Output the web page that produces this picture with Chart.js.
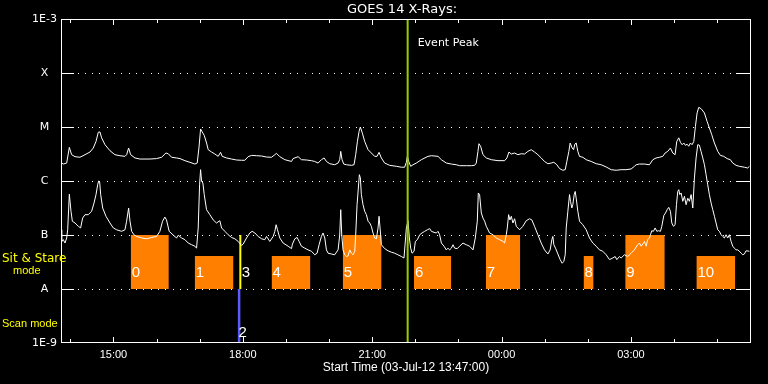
<!DOCTYPE html>
<html>
<head>
<meta charset="utf-8">
<script src="https://cdn.jsdelivr.net/npm/chart.js@4.4.1/dist/chart.umd.min.js"></script>
<style>
    html, body { margin: 0; padding: 0; background: #000; }
    canvas { display: block; }
</style>
</head>
<body>
<canvas id="goesChart" width="768" height="384"></canvas>
<script>
// time axis is in minutes after the start time 03-Jul-12 13:47:00
const startLabel = "Start Time (03-Jul-12 13:47:00)";
const timeSpan = 960;

// GOES 14 long channel (1-8 A), W/m^2
const longTime = [1, 3.2, 7.9, 11.6, 14.8, 19.5, 26.4, 33.4, 40.3, 44.9, 48.7, 51.9, 54.2, 56.5, 61.2, 68.1, 75, 82, 89, 91.3,
    94.1, 96.9, 102.9, 109.8, 123.7, 133, 140, 146, 149.2, 153.9, 160.8, 165.5, 172.4, 179.3, 186.3, 189.5, 191.9, 194.2, 196.5, 199.3,
    202.5, 204.8, 209.5, 214.1, 218.7, 222, 224.3, 230.3, 237.3, 244.2, 251.2, 255.8, 260.4, 265.1, 272, 279, 285.9, 292.9, 297.5, 299.8,
    304.4, 311.4, 320.7, 322.9, 329.9, 334.5, 341.5, 348.4, 353, 357.7, 362.3, 366, 369.3, 373.9, 380.8, 385.5, 387.8, 389.2, 391, 393.4,
    397.1, 404, 407.7, 410, 412.4, 414.7, 416.5, 419.3, 422.5, 427.2, 431.8, 436.4, 439.7, 442.5, 445.7, 450.3, 457.3, 466.6, 473.5, 478.1,
    480.5, 481.9, 483.8, 486.5, 489.8, 494.4, 501.4, 510.6, 515.3, 524.5, 529.2, 536.1, 543.1, 550, 554.6, 563.9, 570.9, 575.5, 577.8, 580.1,
    581.5, 583.8, 587.1, 591.7, 598.7, 607.9, 617.2, 620.4, 623.2, 626.5, 631.1, 635.7, 640.4, 645, 649.6, 654.2, 658.8, 663.5, 668.1, 672.7,
    677.4, 682, 685.7, 689.9, 693.6, 698.2, 701.5, 703.8, 706.6, 708.4, 711.2, 713.1, 714.9, 716.8, 719.1, 721.4, 726, 730.7, 737.6, 744.6,
    751.5, 758.5, 765.4, 772.4, 779.3, 786.3, 793.2, 797.8, 800.2, 804.8, 811.8, 818.7, 823.4, 828, 832.6, 837.3, 840.5, 844.2, 847.9, 851.2,
    854.4, 856.7, 859.5, 861.8, 864.2, 866.5, 868.8, 871.1, 873.4, 875.7, 878, 880.4, 882.7, 885, 887.3, 890.6, 895.2, 898.9, 902.1, 905.4,
    909.1, 913.7, 917.4, 922.1, 926.7, 931.3, 934.6, 939.2, 943.8, 950.8, 955.4, 957.8];
const longFlux = [2.15e-6, 2.06e-6, 2.15e-6, 4.2e-6, 3.07e-6, 2.82e-6, 2.75e-6, 3.07e-6, 3.44e-6, 4.08e-6, 5.4e-6, 8.0e-6, 8.1e-6, 6.3e-6, 4.7e-6, 3.64e-6, 3.07e-6, 2.94e-6, 2.86e-6, 3.07e-6,
    4.08e-6, 3.07e-6, 2.67e-6, 2.55e-6, 2.55e-6, 2.6e-6, 2.75e-6, 3.3e-6, 3.2e-6, 2.75e-6, 2.67e-6, 2.6e-6, 2.38e-6, 2.22e-6, 2.06e-6, 2.15e-6, 4.08e-6, 9.2e-6, 8.1e-6, 7.0e-6,
    5.05e-6, 3.8e-6, 3.44e-6, 3.16e-6, 2.86e-6, 3.4e-6, 2.86e-6, 2.67e-6, 2.55e-6, 2.45e-6, 2.42e-6, 2.42e-6, 2.82e-6, 2.98e-6, 2.94e-6, 2.9e-6, 2.78e-6, 2.75e-6, 3.07e-6, 3.25e-6,
    2.82e-6, 2.48e-6, 2.3e-6, 2.6e-6, 2.82e-6, 2.48e-6, 2.45e-6, 2.38e-6, 2.3e-6, 2.15e-6, 2.48e-6, 2.67e-6, 2.3e-6, 2.09e-6, 2.0e-6, 2.15e-6, 2.48e-6, 3.54e-6, 2.48e-6, 2.06e-6,
    2.0e-6, 1.95e-6, 2.0e-6, 3.07e-6, 5.4e-6, 8.3e-6, 1.0e-5, 7.7e-6, 5.4e-6, 3.8e-6, 3.3e-6, 2.86e-6, 2.86e-6, 3.4e-6, 2.67e-6, 2.15e-6, 1.95e-6, 1.87e-6, 1.8e-6, 1.8e-6,
    2.22e-6, 2.86e-6, 2.3e-6, 1.87e-6, 2.0e-6, 2.15e-6, 2.48e-6, 2.86e-6, 2.94e-6, 2.86e-6, 2.48e-6, 2.15e-6, 2.06e-6, 2.0e-6, 1.92e-6, 1.92e-6, 1.92e-6, 1.95e-6, 2.15e-6, 3.54e-6,
    4.9e-6, 4.4e-6, 3.07e-6, 2.67e-6, 2.48e-6, 2.38e-6, 2.38e-6, 2.67e-6, 3.44e-6, 3.16e-6, 3.3e-6, 3.07e-6, 3.2e-6, 3.16e-6, 3.54e-6, 3.8e-6, 3.44e-6, 3.07e-6, 2.67e-6, 2.3e-6,
    2.09e-6, 2.15e-6, 2.22e-6, 2.0e-6, 1.7e-6, 1.58e-6, 1.62e-6, 2.3e-6, 3.54e-6, 5.05e-6, 4.08e-6, 3.8e-6, 4.8e-6, 5.05e-6, 3.54e-6, 2.86e-6, 2.75e-6, 2.48e-6, 2.3e-6, 2.09e-6,
    2.0e-6, 1.82e-6, 1.62e-6, 1.58e-6, 1.62e-6, 1.62e-6, 1.67e-6, 1.87e-6, 2.0e-6, 2.06e-6, 2.06e-6, 2.0e-6, 2.48e-6, 2.67e-6, 2.75e-6, 2.86e-6, 3.3e-6, 3.54e-6, 4.08e-6, 3.3e-6,
    3.07e-6, 5.4e-6, 6.3e-6, 5.2e-6, 4.7e-6, 5.05e-6, 4.58e-6, 4.8e-6, 4.4e-6, 5.05e-6, 4.7e-6, 5.4e-6, 1.03e-5, 1.82e-5, 2.31e-5, 2.18e-5, 1.82e-5, 1.27e-5, 9.6e-6, 7.2e-6,
    5.05e-6, 3.54e-6, 2.98e-6, 2.86e-6, 2.6e-6, 2.48e-6, 2.15e-6, 1.95e-6, 1.87e-6, 1.8e-6, 1.74e-6, 1.87e-6];

// GOES 14 short channel (0.5-4 A), W/m^2
const shortTime = [0, 1, 3.2, 5.6, 7.9, 9.3, 11.6, 13.9, 15.8, 19.5, 24.1, 27.3, 30.1, 33.4, 38, 42.6, 45.9, 48.7, 51, 52.4,
    53.8, 55.2, 58, 62.6, 68.1, 72.8, 77.4, 84.4, 89, 91.3, 94.1, 96, 98.3, 101.5, 105.2, 112.2, 119.1, 126, 133, 137.6,
    141.3, 144.5, 146.8, 150.5, 156, 160.8, 163.1, 167.8, 172.4, 177, 181.7, 186.3, 188.6, 190.9, 192.8, 194.2, 195.6, 197.4, 199.3, 202.5,
    207.1, 211.8, 216.4, 221, 223.4, 228, 232.6, 237.3, 241.9, 246.5, 251.2, 253.5, 258.1, 262.7, 266, 269.7, 274.3, 279, 283.6, 285.9,
    290.5, 295.2, 297.5, 299.3, 301.2, 304.4, 309.1, 316, 320.7, 322, 325.3, 328.5, 331.3, 334.5, 339.2, 343.8, 348.4, 353, 356.3, 359.1,
    362.3, 364.6, 367, 369.3, 371.6, 376.2, 380.8, 385.5, 387.8, 389.2, 390.6, 392.4, 394.7, 397.1, 399.4, 401.7, 404, 406.3, 408.7, 410,
    411.9, 413.7, 415.1, 416.5, 417.9, 420.2, 422.5, 424.9, 427.2, 429.5, 431.8, 434.1, 436.4, 438.8, 441.1, 442.5, 443.9, 445.7, 450.3, 455,
    459.6, 464.2, 468.8, 473.5, 477.2, 480.5, 482.8, 484.7, 486.5, 488.4, 491.2, 493, 495.8, 499.1, 502.3, 506, 509.7, 513, 515.3, 519,
    522.2, 524.5, 526.8, 529.2, 532.9, 536.1, 538.4, 540.7, 543.1, 545.4, 547.7, 551.4, 554.6, 559.3, 563.9, 568.5, 573.2, 576.4, 579.2, 580.6,
    582.4, 584.8, 587.1, 589.4, 591.7, 596.3, 601, 605.6, 610.2, 614.9, 617.2, 619.5, 620.9, 622.8, 624.6, 626.5, 628.8, 631.1, 633.4, 638.1,
    640.4, 642.6, 647.3, 651.9, 655.1, 658.8, 663.5, 668.1, 672.7, 677.4, 680.6, 682.9, 684.3, 685.7, 688, 691.3, 694.5, 697.3, 699.6, 701.5,
    702.9, 705.2, 707.5, 708.9, 710.7, 712.1, 714, 715.4, 716.8, 719.1, 721.4, 726, 730.7, 735.3, 739.9, 744.6, 749.2, 753.8, 758.5, 763.1,
    767.7, 771, 773.3, 777, 779.3, 783.9, 788.6, 793.2, 797.8, 800.2, 802.5, 804.8, 807.2, 809.5, 811.8, 814.1, 816.4, 818.7, 820.1, 822,
    824.3, 826.6, 829, 831.3, 834, 835.9, 838.7, 841, 843.3, 845.6, 847.9, 849.8, 852.1, 854.4, 856.3, 858.1, 859.5, 860.9, 862.8, 865.1,
    867.4, 869.7, 872, 874.3, 876.7, 879, 881.3, 883.6, 885.9, 888.2, 890.6, 892.9, 895.2, 897.5, 899.8, 902.1, 904.5, 906.8, 909.1, 911.4,
    913.7, 916, 918.4, 920.7, 923, 925.3, 927.6, 929.9, 932.3, 934.6, 936.9, 939.2, 941.5, 943.8, 946.2, 948.5, 950.8, 953.1, 957.8];
const shortFlux = [1.25e-7, 7.6e-8, 8.2e-8, 7.1e-8, 8.8e-8, 1.25e-7, 5.7e-7, 2.75e-7, 1.8e-7, 1.67e-7, 1.45e-7, 1.35e-7, 2.06e-7, 2.38e-7, 2.38e-7, 2.75e-7, 3.9e-7, 5.6e-7, 8.5e-7, 1.0e-6,
    9.6e-7, 5.6e-7, 3.16e-7, 2.22e-7, 1.67e-7, 1.35e-7, 1.25e-7, 1.17e-7, 1.25e-7, 1.8e-7, 3.16e-7, 1.8e-7, 1.17e-7, 1.01e-7, 9.4e-8, 8.8e-8, 8.5e-8, 9.0e-8, 9.4e-8, 1.17e-7,
    1.8e-7, 2.15e-7, 1.9e-7, 1.17e-7, 1.0e-7, 8.8e-8, 9.9e-8, 8.8e-8, 8.2e-8, 7.1e-8, 6.6e-8, 6.2e-8, 5.7e-8, 1.35e-7, 8.5e-7, 1.62e-6, 9.9e-7, 9.2e-7, 5.6e-7, 2.94e-7,
    2.38e-7, 1.9e-7, 1.67e-7, 1.84e-7, 1.35e-7, 1.17e-7, 1.01e-7, 9.0e-8, 8.5e-8, 7.6e-8, 6.4e-8, 6.8e-8, 8.8e-8, 1.09e-7, 1.17e-7, 1.09e-7, 9.4e-8, 8.5e-8, 8.2e-8, 9.4e-8,
    7.6e-8, 9.4e-8, 1.17e-7, 1.55e-7, 1.25e-7, 8.8e-8, 7.1e-8, 6.2e-8, 5.6e-8, 6.8e-8, 8.5e-8, 9.0e-8, 7.6e-8, 6.2e-8, 5.7e-8, 5.3e-8, 5.0e-8, 4.3e-8, 4.6e-8, 6.6e-8,
    9.4e-8, 1.09e-7, 8.8e-8, 5.3e-8, 4.6e-8, 4.45e-8, 4.3e-8, 5.3e-8, 1.0e-7, 2.94e-7, 1.0e-7, 5.3e-8, 4.3e-8, 4.0e-8, 4.1e-8, 5.3e-8, 4.6e-8, 4.3e-8, 5.0e-8, 1.0e-7,
    3.64e-7, 7.4e-7, 1.31e-6, 1.14e-6, 5.6e-7, 3.64e-7, 2.75e-7, 2.38e-7, 1.8e-7, 1.67e-7, 1.45e-7, 1.09e-7, 8.8e-8, 8.5e-8, 1.35e-7, 2.22e-7, 1.35e-7, 6.6e-8, 5.6e-8, 5.1e-8,
    4.8e-8, 4.6e-8, 4.3e-8, 4.0e-8, 3.75e-8, 1.35e-7, 1.84e-7, 8.8e-8, 5.7e-8, 4.6e-8, 5.0e-8, 7.6e-8, 8.2e-8, 1.01e-7, 1.09e-7, 1.17e-7, 1.25e-7, 1.31e-7, 1.17e-7, 1.12e-7,
    1.09e-7, 1.17e-7, 1.01e-7, 7.1e-8, 6.2e-8, 5.3e-8, 5.7e-8, 5.3e-8, 5.7e-8, 6.6e-8, 5.7e-8, 5.6e-8, 6.2e-8, 7.1e-8, 6.6e-8, 6.2e-8, 5.3e-8, 8.8e-8, 1.8e-7, 6.0e-7,
    5.6e-7, 2.55e-7, 2.06e-7, 1.8e-7, 1.45e-7, 1.09e-7, 1.01e-7, 8.8e-8, 8.2e-8, 7.6e-8, 7.1e-8, 1.01e-7, 1.35e-7, 2.38e-7, 1.9e-7, 2.22e-7, 1.67e-7, 2.0e-7, 1.45e-7, 1.25e-7,
    1.35e-7, 1.45e-7, 1.84e-7, 2.0e-7, 1.9e-7, 1.45e-7, 1.01e-7, 7.1e-8, 5.3e-8, 4.45e-8, 5.3e-8, 8.2e-8, 9.4e-8, 6.6e-8, 5.7e-8, 4.45e-8, 3.5e-8, 3.0e-8, 3.25e-8, 4.3e-8,
    1.35e-7, 2.75e-7, 5.6e-7, 4.2e-7, 3.16e-7, 3.64e-7, 5.6e-7, 6.4e-7, 4.8e-7, 2.75e-7, 1.8e-7, 1.55e-7, 1.25e-7, 8.8e-8, 7.1e-8, 6.2e-8, 5.3e-8, 5.0e-8, 4.3e-8, 3.5e-8,
    3.75e-8, 4.0e-8, 3.5e-8, 4.0e-8, 3.75e-8, 4.3e-8, 4.0e-8, 4.6e-8, 5.3e-8, 6.0e-8, 6.6e-8, 7.1e-8, 6.2e-8, 6.8e-8, 7.6e-8, 6.2e-8, 8.2e-8, 8.8e-8, 1.01e-7, 1.2e-7,
    1.17e-7, 1.35e-7, 1.17e-7, 1.2e-7, 1.17e-7, 1.45e-7, 2.3e-7, 2.55e-7, 2.94e-7, 3.25e-7, 2.75e-7, 1.67e-7, 1.45e-7, 1.55e-7, 3.64e-7, 6.4e-7, 6.9e-7, 5.6e-7, 6.0e-7, 4.2e-7,
    5.2e-7, 3.64e-7, 4.8e-7, 4.2e-7, 5.6e-7, 3.16e-7, 1.14e-6, 2.67e-6, 4.7e-6, 4.6e-6, 3.5e-6, 2.67e-6, 2.0e-6, 1.31e-6, 8.5e-7, 5.6e-7, 3.9e-7, 2.94e-7, 2.22e-7, 1.67e-7,
    1.25e-7, 1.17e-7, 1.01e-7, 9.4e-8, 8.8e-8, 1.01e-7, 8.8e-8, 1.01e-7, 7.6e-8, 6.2e-8, 5.7e-8, 5.3e-8, 5.3e-8, 5.0e-8, 4.6e-8, 4.3e-8, 4.45e-8, 5.1e-8, 5.0e-8];

// axis ticks
const hourTicks = [13, 73, 133, 193, 253, 313, 373, 433, 493, 553, 613, 673, 733, 793, 853, 913];
const labelTicks = [73, 253, 433, 613, 793];
const labelText = ["15:00", "18:00", "21:00", "00:00", "03:00"];
const decades = [1e-9, 1e-8, 1e-7, 1e-6, 1e-5, 1e-4, 1e-3];
const decadeLabels = ["1E-9", "A", "B", "C", "M", "X", "1E-3"];

const eventPeak = 482.3;

// observing blocks
const blockNames = ["0", "1", "4", "5", "6", "7", "8", "9", "10"];
const blockStart = [97, 186, 293, 392, 491, 591, 727, 785, 884];
const blockEnd = [150, 240, 347, 446, 543, 639, 741, 840, 938];
const blockTop = [1e-7, 4.1e-8, 4.1e-8, 1e-7, 4.1e-8, 1e-7, 4.1e-8, 1e-7, 4.1e-8];
const blockBase = 1e-8;
const stareTime = 249.5;  // block 3, sit & stare
const scanTime = 247.8;   // block 2, scan

const orange = "#ff8000";
const green = "#99cc00";

const toPoints = (xs, ys) => xs.map((x, i) => ({ x: x, y: ys[i] }));

const datasets = [
    { data: toPoints([eventPeak, eventPeak], [1e-9, 1e-3]), borderColor: green, borderWidth: 2, order: 0 },
    { data: toPoints(longTime, longFlux), borderColor: "#fff", borderWidth: 1, order: 1 },
    { data: toPoints(shortTime, shortFlux), borderColor: "#fff", borderWidth: 1, order: 1 },
    { data: toPoints([stareTime, stareTime], [1e-7, 1e-8]), borderColor: "#ffff00", borderWidth: 2, order: 2 },
    { data: toPoints([scanTime, scanTime], [1e-8, 1e-9]), borderColor: "#5a5aff", borderWidth: 2.5, order: 2 }
];
blockStart.forEach((s, i) => {
    datasets.push({
        data: toPoints([s, blockEnd[i]], [blockTop[i], blockTop[i]]),
        borderColor: "rgba(0,0,0,0)",
        borderWidth: 0,
        backgroundColor: orange,
        fill: { value: blockBase },
        order: 3
    });
});

const frame = {
    id: "frame",
    beforeDatasetsDraw(chart) {
        const { ctx, chartArea: a, scales: { y } } = chart;
        ctx.save();
        ctx.fillStyle = "#fff";
        decades.slice(1, -1).forEach(v => {
            const py = Math.round(y.getPixelForValue(v));
            for (let px = a.left + 16.5; px < a.right - 16; px += 7.33) {
                ctx.fillRect(Math.round(px), py, 1, 1);
            }
        });
        ctx.restore();
    },
    afterDatasetsDraw(chart) {
        const { ctx, chartArea: a, scales: { x, y } } = chart;
        ctx.save();
        ctx.fillStyle = "#fff";

        // box
        ctx.fillRect(a.left, a.top, a.right - a.left, 1);
        ctx.fillRect(a.left, a.bottom - 1, a.right - a.left, 1);
        ctx.fillRect(a.left, a.top, 1, a.bottom - a.top);
        ctx.fillRect(a.right - 1, a.top, 1, a.bottom - a.top);

        // ticks
        decades.slice(1, -1).forEach(v => {
            const py = Math.round(y.getPixelForValue(v));
            ctx.fillRect(a.left, py, 13, 1);
            ctx.fillRect(a.right - 15, py, 15, 1);
        });
        hourTicks.forEach(m => {
            const px = Math.round(x.getPixelForValue(m));
            const len = labelTicks.includes(m) ? 6 : 4;
            ctx.fillRect(px, a.bottom - len, 1, len);
            ctx.fillRect(px, a.top, 1, len);
        });

        // y labels
        ctx.textBaseline = "middle";
        ctx.textAlign = "center";
        ctx.font = '11px "DejaVu Sans"';
        decades.forEach((v, i) => {
            ctx.fillText(decadeLabels[i], a.left - 16.5, y.getPixelForValue(v) + 0.5);
        });

        // title and notes
        ctx.font = '13px "DejaVu Sans"';
        ctx.fillText("GOES 14 X-Rays:", (a.left + a.right) / 2 - 4, 10);

        ctx.textAlign = "left";
        ctx.font = '11px "DejaVu Sans"';
        const ev = x.getPixelForValue(eventPeak);
        ctx.fillText("Event Peak", ev + 10, a.top + 24);

        const yA = y.getPixelForValue(1e-8);
        const yB = y.getPixelForValue(1e-7);
        const yNum = (yA + y.getPixelForValue(4.1e-8)) / 2;
        ctx.font = '15px "Liberation Sans"';
        blockNames.forEach((n, i) => {
            ctx.fillText(n, x.getPixelForValue(blockStart[i]) + 1, yNum);
        });
        ctx.fillText("3", x.getPixelForValue(stareTime) + 1.5, yNum);
        ctx.fillText("2", x.getPixelForValue(scanTime) - 0.5, a.bottom - 10);

        ctx.fillStyle = "#ffff00";
        ctx.font = '12px "DejaVu Sans"';
        ctx.fillText("Sit & Stare", 2, yB + 24);
        ctx.font = '11px "Liberation Sans"';
        ctx.fillText("mode", 13, yB + 36);
        ctx.fillText("Scan mode", 2, yA + 35);
        ctx.restore();
    }
};

new Chart(document.getElementById("goesChart"), {
    type: "line",
    data: { datasets: datasets },
    options: {
        responsive: false,
        animation: false,
        events: [],
        layout: { padding: { top: 19, right: 17, left: 0, bottom: 0 } },
        elements: { point: { radius: 0 }, line: { tension: 0 } },
        plugins: {
            legend: { display: false },
            tooltip: { enabled: false },
            title: { display: false }
        },
        scales: {
            x: {
                type: "linear",
                min: 0,
                max: timeSpan,
                grid: { display: false, drawTicks: false },
                border: { display: false },
                afterFit: s => { s.height = 41; },
                afterBuildTicks: s => { s.ticks = labelTicks.map(v => ({ value: v })); },
                ticks: {
                    color: "#fff",
                    font: { family: "Liberation Sans", size: 11 },
                    padding: 5,
                    maxRotation: 0,
                    autoSkip: false,
                    callback: v => labelText[labelTicks.indexOf(v)]
                },
                title: {
                    display: true,
                    text: startLabel,
                    color: "#fff",
                    font: { family: "Liberation Sans", size: 12 },
                    padding: { top: 0, bottom: 9 }
                }
            },
            y: {
                type: "logarithmic",
                min: 1e-9,
                max: 1e-3,
                grid: { display: false, drawTicks: false },
                border: { display: false },
                afterFit: s => { s.width = 61; },
                afterBuildTicks: s => { s.ticks = decades.map(v => ({ value: v })); },
                ticks: { display: false }
            }
        }
    },
    plugins: [frame]
});
</script>
</body>
</html>
